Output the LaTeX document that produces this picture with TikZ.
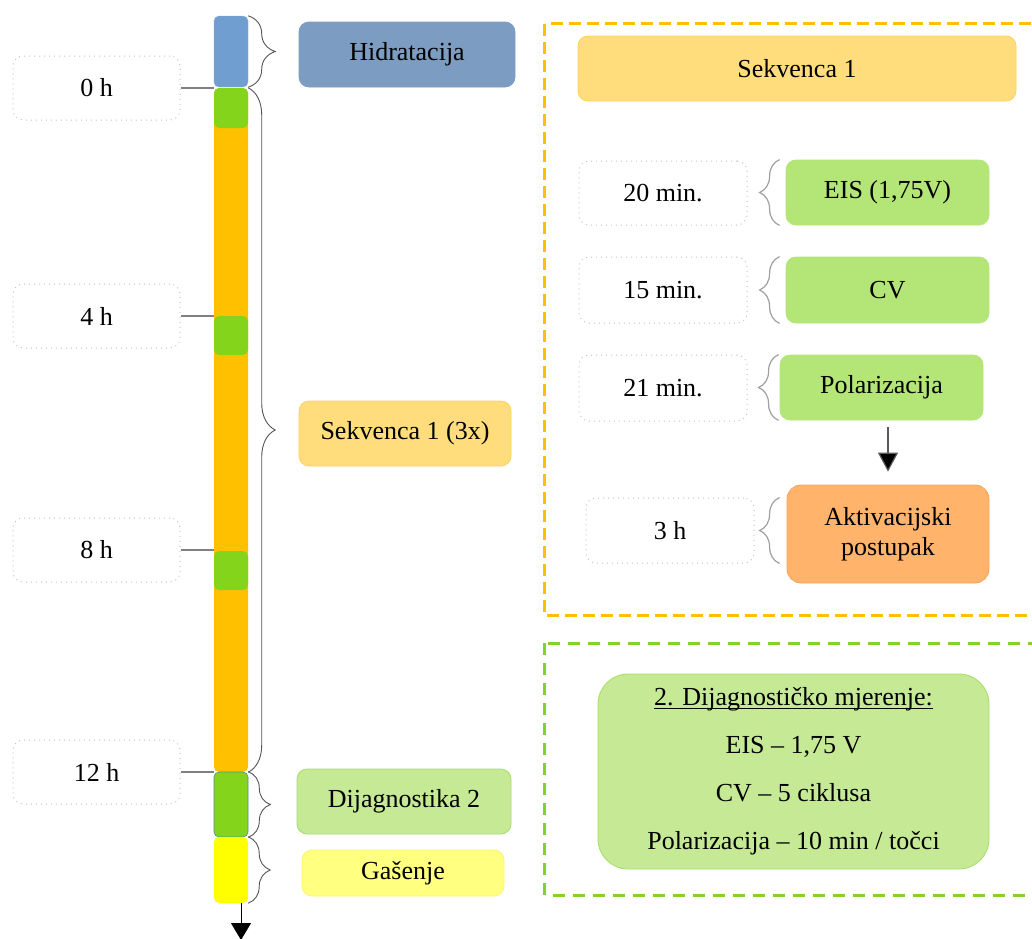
\documentclass[tikz,border=0pt]{standalone}
\usepackage{fontspec}
\setmainfont{Liberation Serif}
\usetikzlibrary{arrows.meta,decorations.pathreplacing}
\definecolor{hidra}{RGB}{125,156,193}
\definecolor{blueblk}{RGB}{112,158,208}
\definecolor{lime}{RGB}{132,212,28}
\definecolor{limeb}{RGB}{70,150,140}
\definecolor{orng}{RGB}{255,192,0}
\definecolor{yell}{RGB}{255,255,0}
\definecolor{lightorng}{RGB}{255,221,125}
\definecolor{lightorngb}{RGB}{255,210,90}
\definecolor{lightgrn}{RGB}{197,233,148}
\definecolor{lightgrnb}{RGB}{168,220,106}
\definecolor{midgrn}{RGB}{179,229,119}
\definecolor{aktiv}{RGB}{255,179,107}
\definecolor{aktivb}{RGB}{250,165,90}
\definecolor{gasen}{RGB}{255,255,128}
\definecolor{gasenb}{RGB}{250,245,110}
\definecolor{dotgray}{RGB}{195,195,195}
\definecolor{bracegray}{RGB}{85,85,85}
\definecolor{bracelight}{RGB}{160,160,160}
\definecolor{dashgrn}{RGB}{132,210,40}
\newcommand\myul[1]{\setbox0\hbox{#1}\rlap{\rule[-3pt]{\wd0}{0.9pt}}\box0}
\tikzset{
  txt/.style={font=\fontsize{26}{30}\selectfont, text=black, inner sep=0pt},
  blk/.style={rounded corners=5pt, minimum width=34pt, inner sep=0pt},
  lbl/.style={txt, rounded corners=10pt, draw, line width=0.8pt, align=center},
  timebox/.style={txt, rounded corners=10pt, draw=dotgray, line width=1pt, dash pattern=on 1pt off 4pt, minimum width=167pt, minimum height=64pt},
  tline/.style={draw=gray, line width=1.2pt},
  bbrace/.style={draw=bracegray, line width=0.9pt, decorate, decoration={brace, amplitude=27pt}},
  sbrace/.style={draw=bracelight, line width=1.2pt, decorate, decoration={brace, amplitude=20pt}},
  arr/.style={draw=gray!70!black, line width=1.2pt, -{Triangle[width=20pt,length=19pt,fill=black]}},
}
\begin{document}
\begin{tikzpicture}[x=1pt,y=-1pt]
\clip (0,0) rectangle (1032,938);
\fill[white] (0,0) rectangle (1032,938);

% timeline blocks
\node[blk, fill=blueblk, draw=blueblk!80!white, minimum height=71pt] (blue) at (231,51.5) {};
\node[blk, fill=orng, minimum height=684pt] (orange) at (231,430) {};
\node[blk, fill=lime, minimum height=40pt] (g1) at (231,108) {};
\node[blk, fill=lime, minimum height=39pt] (g2) at (231,335.5) {};
\node[blk, fill=lime, minimum height=39pt] (g3) at (231,570.5) {};
\node[blk, fill=lime, draw=limeb, line width=0.6pt, minimum height=65pt] (dg) at (231,804.5) {};
\node[blk, fill=yell, minimum height=66pt] (ye) at (231,870) {};
\coordinate (endarr) at (241,940);
\draw[line width=1pt, -{Triangle[width=20pt,length=17pt]}] (ye.south -| endarr) -- (endarr);

% time labels
\node[timebox] (t0) at (96.5,88) {0 h};
\node[timebox] (t4) at (96.5,316) {4 h};
\node[timebox] (t8) at (96.5,550) {8 h};
\node[timebox] (t12) at (96.5,772) {12 h};
\draw[tline] (t0.east) -- (t0.east -| blue.west);
\draw[tline] (t4.east) -- (t4.east -| blue.west);
\draw[tline] (t8.east) -- (t8.east -| blue.west);
\draw[tline] (t12.east) -- (t12.east -| blue.west);

% braces timeline
\draw[bbrace] (blue.north east) -- (blue.south east);
\draw[bbrace] (g1.north east) -- (orange.south east);
\draw[bbrace, decoration={brace, amplitude=22pt}] (dg.north east) -- (dg.south east);
\draw[bbrace, decoration={brace, amplitude=22pt}] (ye.north east) -- (ye.south east);

% labels left column
\node[lbl, fill=hidra, draw=hidra, minimum width=216pt, minimum height=65pt] (hid) at (407,54.5) {Hidratacija};
\node[lbl, fill=lightorng, draw=lightorngb, minimum width=212pt, minimum height=65pt] (sek3) at (405,433.5) {Sekvenca 1 (3x)};
\node[lbl, fill=lightgrn, draw=lightgrnb, minimum width=214pt, minimum height=65pt] (dij2) at (404,801.5) {Dijagnostika 2};
\node[lbl, fill=gasen, draw=gasenb, minimum width=202pt, minimum height=46pt] (gas) at (403,873) {Gašenje};

% dashed frames
\draw[orng, line width=3pt, dash pattern=on 12pt off 6pt] (544.5,23.5) rectangle (1060,615);
\draw[dashgrn, line width=3pt, dash pattern=on 12pt off 8pt] (544.5,643) rectangle (1060,895);

% Sekvenca 1 detail
\node[lbl, fill=lightorng, draw=lightorngb, minimum width=438pt, minimum height=65pt] (sek) at (797,68.5) {Sekvenca 1};
\node[timebox, minimum width=168pt] (t20) at (663,193) {20 min.};
\node[timebox, minimum width=168pt, minimum height=66pt] (t15) at (663,290) {15 min.};
\node[timebox, minimum width=168pt, minimum height=66pt] (t21) at (663,388) {21 min.};
\node[timebox, minimum width=168pt, minimum height=65pt] (t3) at (670,530.5) {3 h};

\node[lbl, fill=midgrn, draw=midgrn, minimum width=203pt, minimum height=65pt] (eis) at (887.5,192.5) {EIS (1,75V)};
\node[lbl, fill=midgrn, draw=midgrn, minimum width=203pt, minimum height=66pt] (cv) at (887.5,290) {CV};
\node[lbl, fill=midgrn, draw=midgrn, minimum width=203pt, minimum height=65pt] (pol) at (881.5,387.5) {Polarizacija};
\node[lbl, fill=aktiv, draw=aktivb, rounded corners=14pt, minimum width=202pt, minimum height=98pt] (akt) at (888,534) {Aktivacijski\\postupak};

\draw[sbrace] ([xshift=-6pt]eis.south west) -- ([xshift=-6pt]eis.north west);
\draw[sbrace] ([xshift=-6pt]cv.south west) -- ([xshift=-6pt]cv.north west);
\draw[sbrace] ([xshift=-1pt]pol.south west) -- ([xshift=-1pt]pol.north west);
\draw[sbrace] ([xshift=-7pt]akt.south west |- t3.south) -- ([xshift=-7pt]akt.north west |- t3.north);

\draw[arr, shorten <=7pt, shorten >=13pt] (pol.south -| akt.north) -- (akt.north);

% Diagnostic box
\node[txt, fill=lightgrn, draw=lightgrnb, line width=0.8pt, rounded corners=30pt, minimum width=391pt, minimum height=195pt, align=center, font=\fontsize{26}{48}\selectfont] (diag) at (793.5,771.5)
  {\myul{2. Dijagnostičko mjerenje:}\\EIS – 1,75 V\\CV – 5 ciklusa\\Polarizacija – 10 min / točci};
\end{tikzpicture}
\end{document}
